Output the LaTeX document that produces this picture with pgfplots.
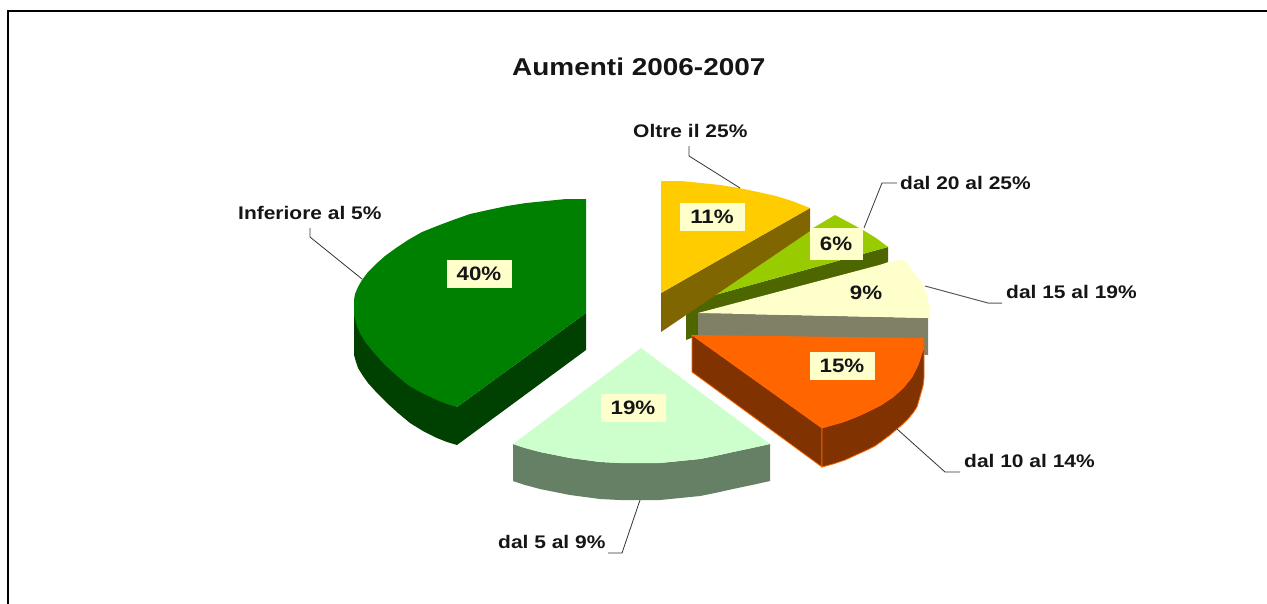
\documentclass[border=0pt]{standalone}
\usepackage{pgfplots}
\pgfplotsset{compat=1.18}
\usepackage{fontspec}
\setmainfont{Liberation Sans}
\newfontfamily\wide[FakeStretch=1.15]{Liberation Sans}
\definecolor{gTop}{HTML}{008000}
\definecolor{gWall}{HTML}{004000}
\definecolor{yTop}{HTML}{FFCC00}
\definecolor{yWall}{HTML}{806600}
\definecolor{lTop}{HTML}{99CC00}
\definecolor{lWall}{HTML}{4D6600}
\definecolor{cTop}{HTML}{FFFFCC}
\definecolor{cWall}{HTML}{808066}
\definecolor{oTop}{HTML}{FF6600}
\definecolor{oWall}{HTML}{803300}
\definecolor{mTop}{HTML}{CCFFCC}
\definecolor{mWall}{HTML}{668066}
\definecolor{ink}{HTML}{151515}
\begin{document}
\begin{tikzpicture}
\path[use as bounding box] (0,0) rectangle (1267bp,604bp);
\begin{axis}[
  at={(0,0)}, anchor=south west,
  scale only axis, width=1267bp, height=604bp,
  xmin=0, xmax=1267, ymin=0, ymax=604, y dir=reverse,
  hide axis, clip=false,
  every axis plot/.append style={line width=0pt, draw=none, mark=none}]
% frame
\addplot[draw=black, line width=1.2bp] coordinates {(8,604) (8,11) (1267,11)};
% green
\addplot[fill=gWall] coordinates {(354,315) (354,355) (356,362) (358,368) (363,376) (368,383) (377,393) (387,403) (398,413) (410,423) (423,431) (437,438) (447,442) (457,445) (586,350) (586,313) (457,407)} --cycle;
\addplot[fill=gTop] coordinates {(586,199) (566,199) (546,201) (526,203) (507,206) (488,210) (470,214) (453,220) (437,226) (422,232) (408,240) (396,248) (385,256) (376,264) (368,272) (362,280) (358,287) (355,294) (354,300) (354,315) (357,327) (361,335) (366,343) (375,354) (385,365) (396,375) (408,385) (422,393) (437,400) (447,404) (457,407) (586,313)} --cycle;
% lime
\addplot[fill=lWall] coordinates {(888,247) (888,262) (686,340) (686,303)} --cycle;
\addplot[fill=lTop] coordinates {(686,303) (808,231) (835,215) (863,230) (876,238) (888,247)} --cycle;
% cream
\addplot[fill=cWall] coordinates {(698,313) (928,318) (928,355) (698,335)} --cycle;
\addplot[fill=cTop] coordinates {(698,313) (902,259) (908,264) (913,271) (919,279) (923,285) (927,295) (929,305) (930,318)} --cycle;
% yellow
\addplot[fill=yWall] coordinates {(810,208) (810,231) (661,332) (661,293)} --cycle;
\addplot[fill=yTop] coordinates {(661,181) (681,181) (701,183) (720,185) (739,188) (758,192) (776,196) (792,201) (810,208) (661,293)} --cycle;
% orange
\addplot[fill=oWall, draw=oTop, line width=0.8bp] coordinates {(692,335) (692,372) (822,467) (822,428)} --cycle;
\addplot[fill=oWall, draw=oTop, line width=0.8bp] coordinates {(822,428) (843,422) (856,417) (867,412) (881,405) (893,397) (903,388) (912,377) (918,365) (922,353) (924,345) (924,378) (923,386) (921,393) (919,400) (917,407) (913,413) (908,419) (903,424) (897,429) (890,435) (882,441) (875,446) (867,450) (856,455) (845,460) (833,464) (822,467)} --cycle;
\addplot[fill=oTop] coordinates {(692,335) (924,338) (922,353) (918,365) (912,377) (903,388) (893,397) (881,405) (867,412) (856,417) (843,422) (822,428)} --cycle;
% mint
\addplot[fill=mWall] coordinates {(513,444) (525,448) (540,452) (555,455) (570,458) (585,460) (600,462) (620,463) (640,463) (660,463) (680,461) (700,459) (715,456) (733,452) (752,448) (770,444) (770,481) (752,485) (733,489) (715,493) (700,496) (680,498) (660,500) (640,500) (620,500) (600,499) (585,497) (570,495) (555,492) (540,489) (525,485) (513,481)} --cycle;
\addplot[fill=mTop] coordinates {(641,348) (770,444) (752,448) (733,452) (715,456) (700,459) (680,461) (660,463) (640,463) (620,463) (600,462) (585,460) (570,458) (555,455) (540,452) (525,448) (513,444)} --cycle;
% leaders
\addplot[draw=black!80, line width=0.8bp] coordinates {(310,228) (310,237) (362,279)};
\addplot[draw=black!80, line width=0.8bp] coordinates {(689,146) (689,156) (740,188)};
\addplot[draw=black!80, line width=0.8bp] coordinates {(897,183) (882,183) (864,228)};
\addplot[draw=black!65, line width=1bp] coordinates {(925,286) (988,303) (1002,303)};
\addplot[draw=black!80, line width=0.8bp] coordinates {(897,429) (945,472) (960,472)};
\addplot[draw=black!80, line width=0.8bp] coordinates {(640,500) (622,553) (608,553)};
% value labels
\tikzset{vl/.style={fill=cTop, inner sep=0pt, minimum width=65bp, minimum height=28bp, text=ink, font=\wide\fontsize{19.5}{19.5}\bfseries}}
\node[vl] at (axis cs:479,274) {40\%};
\node[vl] at (axis cs:712,217) {11\%};
\node[vl, minimum width=53bp, minimum height=32bp] at (axis cs:836,244) {6\%};
\node[vl] at (axis cs:866,293) {9\%};
\node[vl] at (axis cs:842,366) {15\%};
\node[vl] at (axis cs:633,408) {19\%};
% category labels
\tikzset{cl/.style={inner sep=0pt, text=ink, font=\wide\fontsize{18.3}{18.3}\bfseries, anchor=west}}
\node[cl] at (axis cs:238,213) {Inferiore al 5\%};
\node[cl] at (axis cs:633,131) {Oltre il 25\%};
\node[cl] at (axis cs:900,183) {dal 20 al 25\%};
\node[cl] at (axis cs:1006,292) {dal 15 al 19\%};
\node[cl] at (axis cs:964,461) {dal 10 al 14\%};
\node[cl] at (axis cs:498,542) {dal 5 al 9\%};
\node[inner sep=0pt, anchor=west, text=ink, font=\wide\fontsize{24.4}{24.4}\bfseries] at (axis cs:512,67) {Aumenti 2006-2007};
\end{axis}
\end{tikzpicture}
\end{document}
